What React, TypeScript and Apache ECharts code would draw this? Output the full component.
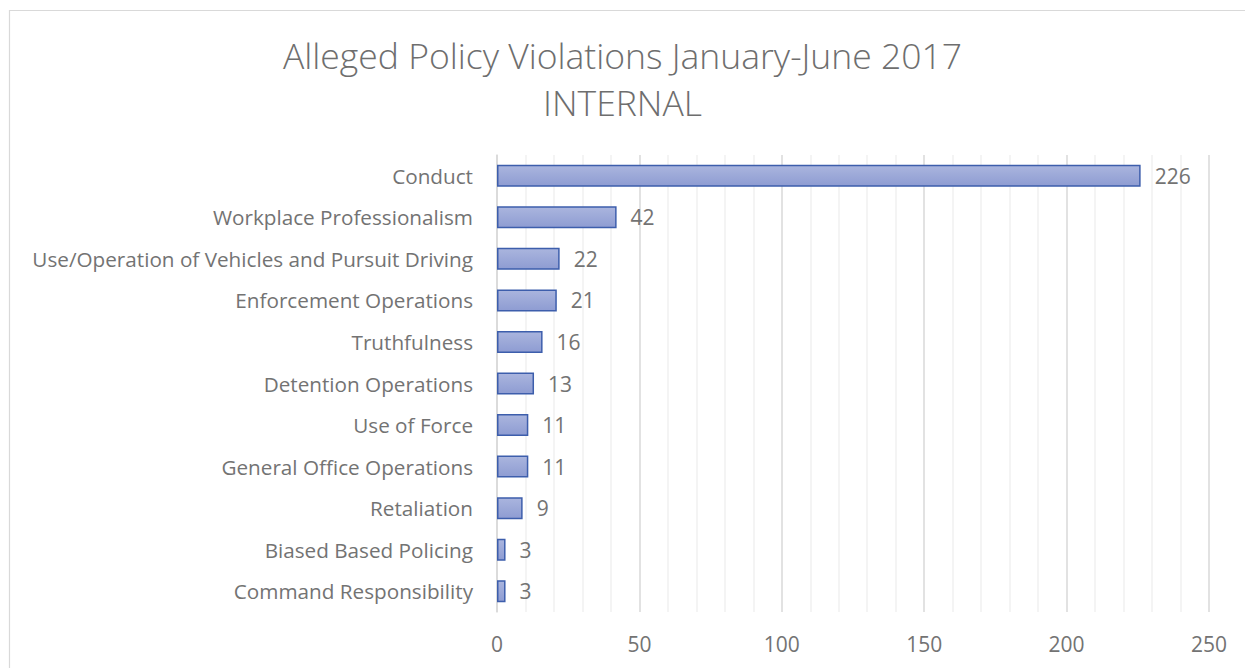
import React, { useEffect, useRef } from "react";
import * as echarts from "echarts";

const categories = [
  "Conduct",
  "Workplace Professionalism",
  "Use/Operation of Vehicles and Pursuit Driving",
  "Enforcement Operations",
  "Truthfulness",
  "Detention Operations",
  "Use of Force",
  "General Office Operations",
  "Retaliation",
  "Biased Based Policing",
  "Command Responsibility",
];
const values = [226, 42, 22, 21, 16, 13, 11, 11, 9, 3, 3];
const titleLines = ["Alleged Policy Violations January-June 2017", "INTERNAL"];

export default function App() {
  const ref = useRef<HTMLDivElement>(null);
  useEffect(() => {
    if (!ref.current) return;
    const chart = echarts.init(ref.current, undefined, { renderer: "svg" });
    const textColor = "#737373";
    const font = "'Open Sans', sans-serif";
    chart.setOption({
      animation: false,
      backgroundColor: "#ffffff",
      title: {
        text: titleLines.join("\n"),
        left: "center",
        top: 26,
        textStyle: {
          fontFamily: font,
          fontSize: 35.5,
          fontWeight: 300,
          color: "#6e6e6e",
          lineHeight: 47,
        },
      },
      graphic: [
        {
          type: "rect",
          shape: { x: 9.5, y: 10.5, width: 1260, height: 700 },
          style: { fill: "none", stroke: "#d9d9d9", lineWidth: 1.2 },
          silent: true,
        },
      ],
      grid: { left: 497, right: 36, top: 155, bottom: 56, containLabel: false },
      xAxis: {
        type: "value",
        min: 0,
        max: 250,
        interval: 50,
        axisLine: { show: false },
        axisTick: { show: false },
        axisLabel: {
          color: textColor,
          fontSize: 21,
          fontFamily: font,
          margin: 21,
        },
        splitLine: { show: true, lineStyle: { color: "#d9d9d9", width: 1.5 } },
        minorTick: { show: false, splitNumber: 5 },
        minorSplitLine: { show: true, lineStyle: { color: "#f0f0f0", width: 1.5 } },
      },
      yAxis: {
        type: "category",
        data: categories,
        inverse: true,
        axisLine: { show: true, lineStyle: { color: "#d9d9d9", width: 1.5 } },
        axisTick: { show: false },
        axisLabel: {
          color: textColor,
          fontSize: 20.7,
          fontFamily: font,
          margin: 24,
        },
      },
      series: [
        {
          type: "bar",
          data: values,
          barCategoryGap: "47%",
          itemStyle: {
            color: new echarts.graphic.LinearGradient(0, 0, 0, 1, [
              { offset: 0, color: "#aab5de" },
              { offset: 1, color: "#8e9cd2" },
            ]),
            borderColor: "#3d5eac",
            borderWidth: 1.5,
          },
          label: {
            show: true,
            position: "right",
            distance: 14,
            color: textColor,
            fontSize: 21,
            fontFamily: font,
          },
        },
      ],
    });
    return () => chart.dispose();
  }, []);
  return (
    <div
      ref={ref}
      style={{ width: 1245, height: 668, position: "absolute", left: 0, top: 0 }}
    />
  );
}
